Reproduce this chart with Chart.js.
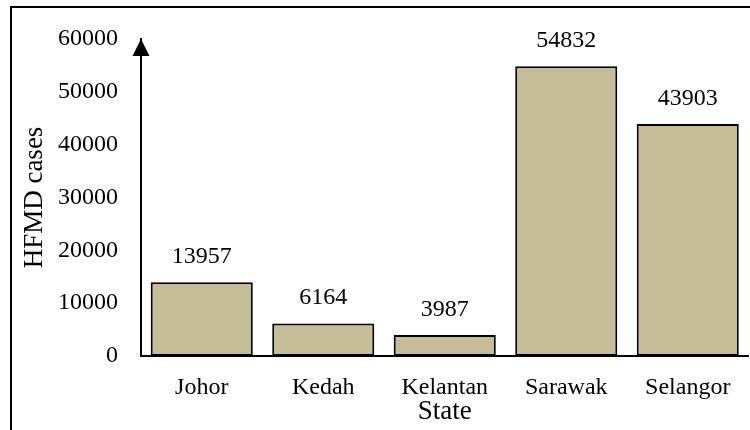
<!DOCTYPE html>
<html>
<head>
<meta charset="utf-8">
<script src="https://cdn.jsdelivr.net/npm/chart.js@4"></script>
<style>
  html, body { margin: 0; padding: 0; background: #fff; }
  #wrap { width: 750px; height: 430px; }
</style>
</head>
<body>
<div id="wrap"><canvas id="chart" width="750" height="430"></canvas></div>
<script>
const states = ['Johor', 'Kedah', 'Kelantan', 'Sarawak', 'Selangor'];
const cases = [13957, 6164, 3987, 54832, 43903];
const yTicks = [0, 10000, 20000, 30000, 40000, 50000, 60000];

const serif = 'Liberation Serif, Times New Roman, serif';

// frame, axis arrow and value labels
const extras = {
  id: 'extras',
  afterDraw(chart) {
    const ctx = chart.ctx;
    const area = chart.chartArea;
    ctx.save();
    ctx.strokeStyle = '#000';
    ctx.lineWidth = 2;
    ctx.strokeRect(11, 7, 800, 500);

    const x = chart.scales.y.left + chart.scales.y.width;
    ctx.fillStyle = '#000';
    ctx.beginPath();
    ctx.moveTo(x, area.top);
    ctx.lineTo(x - 8.5, area.top + 17);
    ctx.lineTo(x + 8.5, area.top + 17);
    ctx.closePath();
    ctx.fill();

    ctx.font = '24px ' + serif;
    ctx.textAlign = 'center';
    ctx.textBaseline = 'alphabetic';
    const meta = chart.getDatasetMeta(0);
    meta.data.forEach((bar, i) => {
      ctx.fillText(String(cases[i]), bar.x, bar.y - 19);
    });
    ctx.restore();
  }
};

new Chart(document.getElementById('chart'), {
  type: 'bar',
  data: {
    labels: states,
    datasets: [{
      data: cases,
      backgroundColor: '#C4BD97',
      borderColor: '#000',
      borderWidth: 2,
      borderSkipped: false,
      categoryPercentage: 1,
      barPercentage: 0.84
    }]
  },
  options: {
    responsive: false,
    animation: false,
    layout: { padding: { left: 0, top: 39, right: 1.5, bottom: 0 } },
    plugins: { legend: { display: false }, tooltip: { enabled: false } },
    scales: {
      x: {
        afterFit(s) { s.height = 74; },
        grid: { display: false, drawTicks: false },
        border: { display: true, color: '#000', width: 2 },
        ticks: { color: '#000', padding: 17, font: { family: serif, size: 24 } },
        title: {
          display: true, text: 'State', color: '#000',
          padding: { top: 0, bottom: 2 },
          font: { family: serif, size: 27, lineHeight: 1.2 }
        }
      },
      y: {
        min: 0,
        max: 60000,
        afterFit(s) { s.width = 141; },
        afterBuildTicks(s) { s.ticks = yTicks.map(v => ({ value: v })); },
        grid: { display: false, drawTicks: false },
        border: { display: true, color: '#000', width: 2 },
        ticks: {
          color: '#000', padding: 23, font: { family: serif, size: 24 },
          callback: v => String(v)
        },
        title: {
          display: true, text: 'HFMD cases', color: '#000',
          padding: { top: 19, bottom: 0 },
          font: { family: serif, size: 27, lineHeight: 1.2 }
        }
      }
    }
  },
  plugins: [extras]
});
</script>
</body>
</html>
